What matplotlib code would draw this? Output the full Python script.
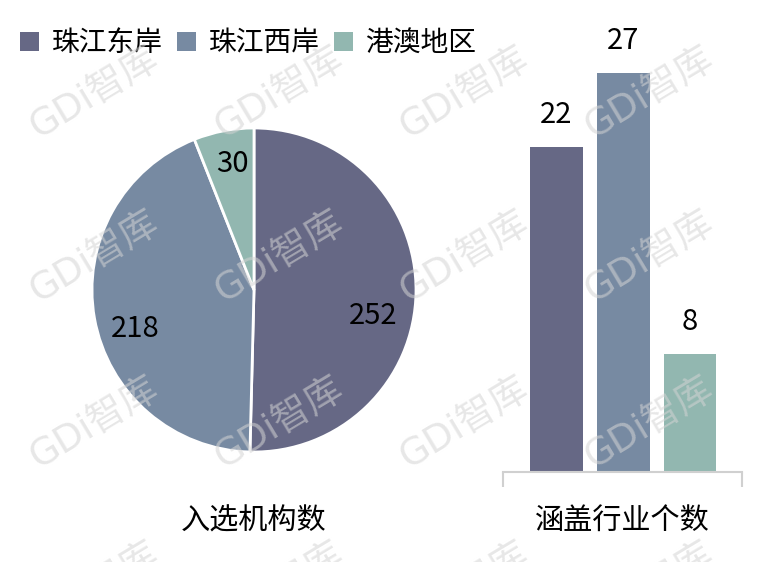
import matplotlib
matplotlib.use("Agg")
import matplotlib.pyplot as plt
from matplotlib.patches import Patch
import numpy as np

plt.rcParams['font.family'] = ['Noto Sans CJK SC', 'DejaVu Sans']

# Data
regions = ['珠江东岸', '珠江西岸', '港澳地区']
institutions = [252, 218, 30]
industries = [22, 27, 8]
colors = ['#666885', '#778AA2', '#92B7B0']
pie_title = '入选机构数'
bar_title = '涵盖行业个数'
watermark = 'GDi智库'

W, H = 765, 562
fig = plt.figure(figsize=(W / 100, H / 100), dpi=100)

def px_axes(left, top, width, height):
    return fig.add_axes([left / W, 1 - (top + height) / H, width / W, height / H])

# Pie chart: starts at 12 o'clock, runs clockwise
cx, cy, r = 254, 290, 162
ax1 = px_axes(cx - r, cy - r, 2 * r, 2 * r)
wedges, _ = ax1.pie(institutions, colors=colors, startangle=90, counterclock=False,
                    radius=1.0, wedgeprops=dict(edgecolor='white', linewidth=2))
ax1.set_xlim(-1, 1)
ax1.set_ylim(-1, 1)
ax1.set_aspect('equal')
ax1.axis('off')
label_nudge = [-11.5, 8.0, -1.0]
label_r = [0.75, 0.77, 0.79]
for w, v, dn, lr in zip(wedges, institutions, label_nudge, label_r):
    ang = np.deg2rad((w.theta1 + w.theta2) / 2 + dn)
    ax1.text(lr * np.cos(ang), lr * np.sin(ang), str(v), ha='center', va='center',
             fontsize=21, color='black')

fig.text(cx / W, 1 - 522 / H, pie_title, ha='center', va='center', fontsize=21)

# Bar chart
x = np.arange(len(industries))
ax2 = px_axes(503, 472 - 30 * 14.78, 239, 30 * 14.78)
bars = ax2.bar(x, industries, width=0.79, color=colors)
ax2.set_xlim(-0.8, 2.78)
ax2.set_ylim(0, 30)
for s in ['top', 'right', 'left']:
    ax2.spines[s].set_visible(False)
ax2.spines['bottom'].set_color('#d0d0d0')
ax2.spines['bottom'].set_linewidth(1.5)
ax2.set_yticks([])
ax2.set_xticks([-0.8, 2.78])
ax2.set_xticklabels([])
ax2.tick_params(axis='x', length=11, width=1.5, color='#d0d0d0', direction='out')
for b, v in zip(bars, industries):
    ax2.annotate(str(v), (b.get_x() + b.get_width() / 2, v), xytext=(0, 23),
                 textcoords='offset points', ha='center', va='center', fontsize=21,
                 annotation_clip=False)

fig.text(622 / W, 1 - 522 / H, bar_title, ha='center', va='center', fontsize=21)

# Legend
handles = [Patch(facecolor=c, edgecolor='none') for c in colors]
fig.legend(handles, regions, loc='center left', bbox_to_anchor=(0.026, 1 - 43 / H), ncol=3,
           frameon=False, fontsize=20, handlelength=0.7, handleheight=0.7,
           handletextpad=0.45, columnspacing=0.5, borderaxespad=0, borderpad=0)

# Watermark
for wy in [93, 257, 423, 588]:
    for wx in [95, 280, 465, 650]:
        fig.text(wx / W, 1 - wy / H, watermark, rotation=31, ha='center', va='center',
                 fontsize=27, color='#d4d4d4', alpha=0.55, zorder=10,
                 family=['DejaVu Sans', 'Noto Sans CJK SC'])

fig.savefig('out.png', dpi=100)
